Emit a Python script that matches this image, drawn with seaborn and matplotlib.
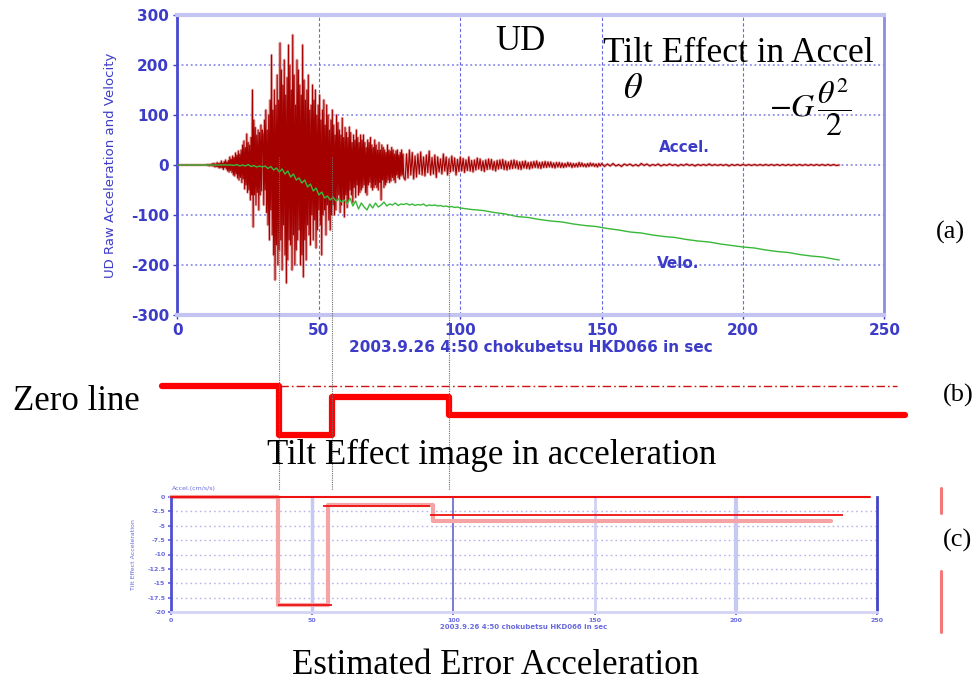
import numpy as np
import matplotlib
matplotlib.use("Agg")
import matplotlib.pyplot as plt
from matplotlib.lines import Line2D
import matplotlib.transforms as mtransforms
import seaborn as sns

# ---------------- UD record: 2003.9.26 4:50 chokubetsu HKD066 ----------------
# raw acceleration (cm/s/s), sampled piecewise
accel_quiet_t = [0.0, 10.0]
accel_quiet = [0, 0]

accel_onset_span = (10.25, 30.0)
accel_onset = [0, 1, -1, 1, -2, 1, -1, 2, -2, 3,
               -2, 3, -4, 2, -3, 5, -4, 3, -6, 4,
               -5, 8, -6, 4, -9, 7, -5, 10, -8, 6,
               -12, 9, -14, 16, -11, 12, -15, 18, -20, 15,
               -22, 24, -18, 20, -26, 28, -30, 22, -25, 30,
               -35, 40, -28, 48, -48, 35, -40, 62, -55, 45,
               -50, 40, -70, 55, -60, 150, -124, 90, -60, 75,
               -80, 60, -55, 70, -90, 65, -60, 80, -52, 70]

accel_strong_span = (30.25, 80.0)
accel_strong = [60, -80, 90, -50, 110, -95, 70, -120, 100, -150,
                130, -90, 220, -140, 110, -180, 150, -230, 120, -160,
                180, -200, 130, -170, 244, -150, 190, -210, 160, -120,
                210, -180, 140, -236, 175, -190, 240, -150, 200, -160,
                150, -210, 260, -140, 180, -200, 120, -170, 210, -150,
                190, -130, 160, -200, 140, -180, 240, -224, 170, -150,
                130, -190, 150, -120, 180, -140, 110, -160, 120, -100,
                160, -150, 130, -110, 150, -166, 100, -130, 120, -90,
                140, -120, 90, -180, 110, -100, 130, -90, 80, -140,
                120, -80, 100, -110, 70, -130, 90, -100, 110, -80,
                80, -100, 60, -90, 100, -70, 85, -60, 70, -95,
                60, -80, 94, -70, 55, -104, 75, -60, 65, -85,
                55, -70, 76, -50, 65, -60, 45, -75, 60, -45,
                50, -65, 70, -40, 55, -60, 45, -55, 60, -50,
                50, -45, 60, -40, 45, -55, 35, -60, 50, -40,
                45, -35, 55, -45, 40, -50, 35, -45, 50, -40,
                40, -45, 30, -50, 45, -35, 30, -70, 40, -30,
                35, -45, 30, -40, 25, -35, 40, -30, 30, -35,
                28, -32, 35, -25, 30, -30, 22, -35, 28, -20,
                30, -25, 20, -28, 25, -22, 30, -20, 22, -25]

accel_coda_span = (80.5, 150.0)
accel_coda = [-30, 22, -26, 30, -20, 25, -28, 18, -24, 22,
              -18, 26, -20, 16, -22, 20, -15, 28, -20, 15,
              -18, 20, -25, 16, -14, 12, -18, 22, -12, 16,
              -20, 12, -14, 18, -12, 14, -20, 11, -13, 16,
              -12, 13, -15, 10, -11, 16, -12, 9, -14, 10,
              -10, 14, -8, 12, -11, 8, -13, 10, -9, 12,
              -8, 11, -10, 7, -12, 9, -8, 10, -7, 11,
              -9, 8, -10, 6, -8, 9, -7, 10, -6, 8,
              -8, 6, -9, 7, -6, 8, -7, 5, -8, 6,
              -6, 7, -5, 8, -6, 5, -7, 6, -5, 7,
              -5, 6, -4, 6, -5, 4, -6, 5, -4, 5,
              -5, 4, -5, 3, -4, 5, -3, 4, -5, 3,
              -4, 3, -4, 5, -3, 4, -3, 2, -4, 3,
              -3, 4, -2, 3, -3, 2, -4, 3, -2, 3]

accel_tail_span = (151.0, 234.0)
accel_tail = [-3, 2, -2, 3, -2, 1, -3, 2, -1, 2,
              -2, 1, -2, 3, -1, 2, -2, 1, -1, 2,
              -2, 1, -1, 2, -1, 1, -2, 1, -1, 2,
              -1, 1, -2, 1, -1, 1, -1, 2, -1, 1,
              -1, 1, -1, 1, -2, 1, -1, 1, -1, 1,
              -1, 1, -1, 1, -1, 1, -1, 1, -1, 1,
              -1, 1, -1, 1, -1, 1, -1, 1, -1, 1,
              -1, 1, -1, 1, -1, 1, -1, 1, -1, 1,
              -1, 1, -1, 0]

# raw velocity (cm/s)
velo_early_span = (0.0, 100.0)
velo_early = [0, 0, 0, 0, 0, 0, 0, 0, 0, 0,
              0, 0, 0, 0, 0, 0, 0, 0, 0, 0,
              -1, 1, -2, 0, -2, 1, -3, -1, -4, -2,
              -4, -2, -7, -3, -10, -6, -14, -8, -18, -12,
              -24, -18, -30, -26, -36, -30, -44, -38, -52, -46,
              -60, -54, -66, -62, -70, -64, -72, -68, -74, -70,
              -78, -66, -82, -72, -88, -76, -84, -90, -78, -86,
              -76, -84, -80, -74, -82, -78, -80, -76, -81, -78,
              -79, -77, -80, -78, -81, -79, -80, -78, -82, -80,
              -81, -80, -82, -81, -83, -82, -84, -83, -85, -84,
              -86]
velo_late_t = [104, 108, 112, 116, 120, 124, 128, 132, 136, 140,
               144, 148, 152, 156, 160, 164, 168, 172, 176, 180,
               184, 188, 192, 196, 200, 204, 208, 212, 216, 220,
               224, 228, 232, 234]
velo_late = [-89, -91, -95, -98, -103, -105, -109, -112, -114, -118,
             -121, -123, -127, -130, -134, -136, -140, -143, -145, -149,
             -152, -154, -158, -161, -164, -166, -170, -173, -175, -179,
             -182, -184, -188, -190]

# tilt-effect image (relative units) and its step times (s)
tilt_steps = [36.0, 54.8, 96.0]
tilt_image_t = [-5.5, 36.0, 54.8, 96.0, 257.3]
tilt_image_v = [0.0, -1.0, -0.22, -0.6, -0.6]
zero_line_t = [36.2, 254.5]

# estimated error acceleration (cm/s/s)
err_t = [0.0, 37.9, 55.5, 92.6, 233.7]
err_v = [0.0, -18.8, -1.4, -4.2, -4.2]
err_seg_t0 = [37.9, 53.8, 91.7]
err_seg_t1 = [57.0, 91.7, 238.0]
err_seg_v = [-18.8, -1.57, -3.13]
err_zero_t = [0.0, 247.5]

# ------------------------------------------------------------------------------
sns.set_theme(style="white")
plt.rcParams["font.family"] = ["DejaVu Sans"]
plt.rcParams["mathtext.fontset"] = "stix"
plt.rcParams["axes.unicode_minus"] = False
plt.rcParams["text.color"] = "black"

W, H = 979, 687
fig = plt.figure(figsize=(W / 100, H / 100), dpi=100)


def box(x0, y0, x1, y1):
    return [x0 / W, 1 - y1 / H, (x1 - x0) / W, (y1 - y0) / H]


def fx(px):
    return px / W


def fy(py):
    return 1 - py / H


BLUE = "#3c3cc8"
PALE = "#6a6ae0"
SERIF = "Liberation Serif"

# ---------------- panel (a) ----------------
ax = fig.add_axes(box(177.5, 15, 884.5, 315))
acc_t = np.concatenate([
    accel_quiet_t,
    np.linspace(*accel_onset_span, len(accel_onset)),
    np.linspace(*accel_strong_span, len(accel_strong)),
    np.linspace(*accel_coda_span, len(accel_coda)),
    np.linspace(*accel_tail_span, len(accel_tail)),
])
acc_v = np.concatenate([accel_quiet, accel_onset, accel_strong, accel_coda, accel_tail])
vel_t = np.concatenate([np.linspace(*velo_early_span, len(velo_early)), velo_late_t])
vel_v = np.concatenate([velo_early, velo_late])

for yv in [-200, -100, 0, 100, 200]:
    ax.axhline(yv, color="#7a7ae6", lw=1.1, ls=(0, (1.2, 1.8)), zorder=1)
for xv in [50, 100, 150, 200]:
    ax.axvline(xv, color="#6a6ae0", lw=0.8, ls=(0, (3, 2)), zorder=1)

sns.lineplot(x=acc_t, y=acc_v, ax=ax, color="#e49a9a", lw=2.0, alpha=0.75, zorder=2)
sns.lineplot(x=acc_t, y=acc_v, ax=ax, color="#a40000", lw=0.8, zorder=3)
sns.lineplot(x=vel_t, y=vel_v, ax=ax, color="#38b838", lw=1.0, zorder=4)

ax.set_xlim(0, 250)
ax.set_ylim(-300, 300)
ax.set_xticks(range(0, 251, 50))
ax.set_yticks(range(-300, 301, 100))
ax.tick_params(axis="both", colors=BLUE, labelsize=11, length=3, width=1, pad=3,
               direction="out", left=True, bottom=True)
for lbl in ax.get_xticklabels() + ax.get_yticklabels():
    lbl.set_fontweight("bold")
    lbl.set_color(BLUE)
ax.set_xlabel("2003.9.26 4:50 chokubetsu HKD066 in sec", color=BLUE,
              fontsize=11, fontweight="bold", labelpad=1)
ax.set_ylabel("UD Raw Acceleration and Velocity", color=BLUE, fontsize=9.5, labelpad=10)
ax.spines["left"].set_color("#4848d0")
ax.spines["left"].set_linewidth(2)
ax.spines["top"].set_color("#c4c4f2")
ax.spines["top"].set_linewidth(3)
ax.spines["bottom"].set_color("#c4c4f2")
ax.spines["bottom"].set_linewidth(3)
ax.spines["right"].set_color("#8c8ce6")
ax.spines["right"].set_linewidth(2)

# ---------------- panel (b) ----------------
axb = fig.add_axes(box(177.5, 375, 884.5, 440))
axb.set_xlim(0, 250)
axb.set_ylim(-1.1111, 0.2222)
axb.axis("off")
sns.lineplot(x=tilt_image_t, y=tilt_image_v, ax=axb, color="#ff0000", lw=4.5,
             drawstyle="steps-post", clip_on=False)
axb.plot(zero_line_t, [0, 0], color="#d01010", lw=1.0,
         dashes=(6, 2.2, 1.2, 2.2), clip_on=False)

# ---------------- panel (c) ----------------
axc = fig.add_axes(box(171, 497, 877, 612))
axc.set_xlim(0, 250)
axc.set_ylim(-20, 0)
for yv in np.arange(-17.5, 0, 2.5):
    axc.axhline(yv, color="#b4b4ee", lw=1.0, ls=(0, (1.2, 2.2)), zorder=1)
for xv, c, lw in [(50, "#c8c8f4", 2.5), (100, "#7a7ad8", 1.4), (150, "#d0d0f4", 2.0),
                  (200, "#c8c8f4", 3.0)]:
    axc.axvline(xv, color=c, lw=lw, zorder=1)
sns.lineplot(x=err_t, y=err_v, ax=axc, color="#f4a4a4", lw=3.0, drawstyle="steps-post",
             zorder=2, clip_on=False)
axc.hlines(err_seg_v, err_seg_t0, err_seg_t1, color="#ee1111", lw=1.3, zorder=3, clip_on=False)
axc.plot(err_zero_t, [0, 0], color="#ee1111", lw=1.5, zorder=3, clip_on=False)
axc.set_xticks(range(0, 251, 50))
axc.set_yticks(np.arange(-20, 0.1, 2.5))
axc.set_yticklabels(["-20", "-17.5", "-15", "-12.5", "-10", "-7.5", "-5", "-2.5", "0"])
axc.tick_params(axis="both", colors=PALE, labelsize=4.5, length=2, pad=2,
                left=True, bottom=True)
for lbl in axc.get_xticklabels() + axc.get_yticklabels():
    lbl.set_fontweight("bold")
axc.set_xlabel("2003.9.26 4:50 chokubetsu HKD066 in sec", color=PALE, fontsize=5,
               fontweight="bold", labelpad=1)
axc.set_ylabel("Tilt Effect Acceleration", color=PALE, fontsize=4.5, labelpad=8)
axc.text(0.5, 0.0, "Accel.(cm/s/s)", transform=mtransforms.offset_copy(
    axc.transData, fig=fig, x=0, y=4, units="points"), color=PALE, fontsize=4.5,
    va="bottom")
axc.spines["left"].set_color("#5050d0")
axc.spines["left"].set_linewidth(2)
axc.spines["right"].set_color("#4444c8")
axc.spines["right"].set_linewidth(2)
axc.spines["bottom"].set_color("#d4d4f6")
axc.spines["bottom"].set_linewidth(2)
axc.spines["top"].set_visible(False)

# guide lines linking the tilt steps through all panels
guide_tr = mtransforms.blended_transform_factory(ax.transData, fig.transFigure)
for ts in tilt_steps:
    fig.add_artist(Line2D([ts, ts], [fy(157), fy(490)], transform=guide_tr,
                          color="#6e6e6e", lw=0.8, ls=(0, (1, 1))))

# side markers next to panel (c)
for y0, y1 in [(488, 513), (571, 632)]:
    fig.add_artist(Line2D([fx(941), fx(941)], [fy(y0), fy(y1)], color="#f47878", lw=2.2))

# ---------------- annotations ----------------
fig.text(fx(684), fy(148), "Accel.", color=BLUE, fontsize=11, fontweight="bold",
         ha="center", va="center")
fig.text(fx(678), fy(263), "Velo.", color=BLUE, fontsize=11, fontweight="bold",
         ha="center", va="center")
fig.text(fx(495), fy(50), "UD", family=SERIF, fontsize=25, ha="left", va="baseline")
fig.text(fx(603), fy(62), "Tilt Effect in Accel", family=SERIF, fontsize=25.5,
         ha="left", va="baseline")
fig.text(fx(633), fy(88), r"$\theta$", fontsize=26, ha="center", va="center")
fig.text(fx(810), fy(107), r"$-G\,\dfrac{\theta^2}{2}$", fontsize=23, ha="center",
         va="center")
fig.text(fx(950), fy(232), "(a)", family=SERIF, fontsize=19, ha="center", va="center")
fig.text(fx(76), fy(401), "Zero line", family=SERIF, fontsize=25, ha="center", va="center")
fig.text(fx(958), fy(395), "(b)", family=SERIF, fontsize=19, ha="center", va="center")
fig.text(fx(492), fy(455), "Tilt Effect image in acceleration", family=SERIF, fontsize=25,
         ha="center", va="center")
fig.text(fx(958), fy(540), "(c)", family=SERIF, fontsize=19, ha="center", va="center")
fig.text(fx(495), fy(665), "Estimated Error Acceleration", family=SERIF, fontsize=25,
         ha="center", va="center")

fig.savefig("out.png", dpi=100)
